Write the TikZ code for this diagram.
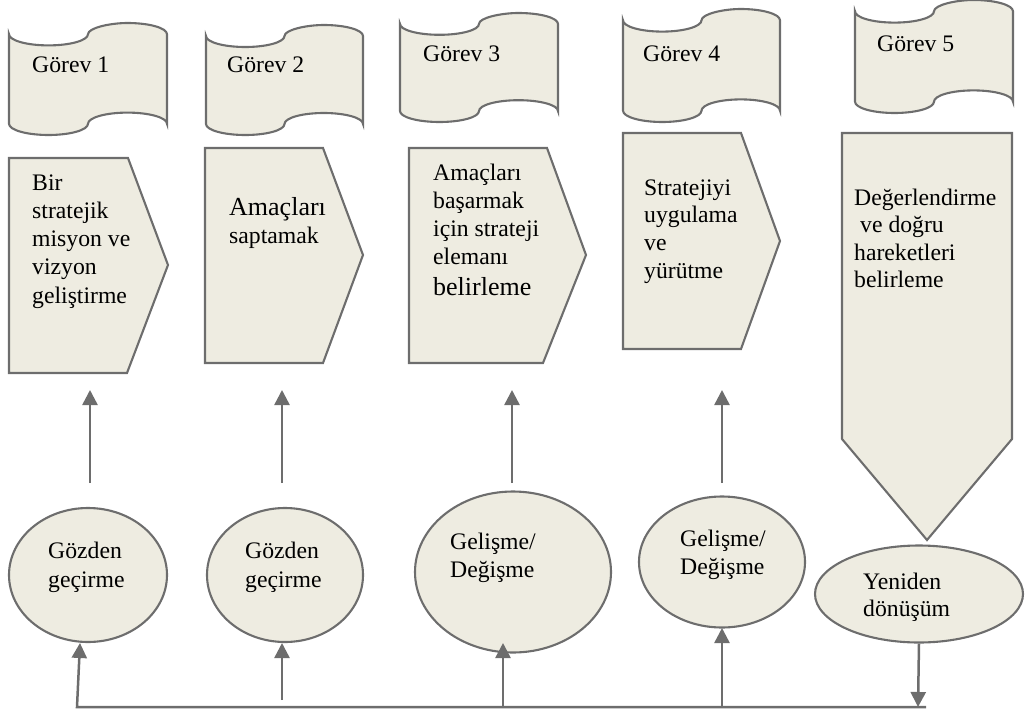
\documentclass[tikz,border=0pt]{standalone}
\usepackage{fontspec}
\setmainfont{Liberation Serif}
\usetikzlibrary{arrows.meta,shapes.geometric}

\definecolor{shapefill}{HTML}{EEECE1}
\definecolor{edgegray}{HTML}{6D6D6D}

\tikzset{
  shapeline/.style={draw=edgegray, line width=2.1pt, fill=shapefill, line join=miter},
  oval/.style={ellipse, shapeline, inner sep=0pt},
  lbl/.style={inner sep=0pt, anchor=base west, font=\fontsize{23.7pt}{28pt}\selectfont},
  biglbl/.style={lbl, font=\fontsize{26pt}{30pt}\selectfont},
  link/.style={draw=edgegray, line width=2.5pt, -{Triangle[width=15pt,length=15pt]}},
}

% punched-tape banner: left x, top y, width, height
\newcommand\tapeshape[4]{%
  \pgfmathsetmacro\tapeqx{#3/4}%
  \pgfmathsetmacro\tapeqy{#4/10}%
  \begin{scope}[shift={(#1,#2)}, x=\tapeqx pt, y=-\tapeqy pt]
    \path[shapeline] (0,1)
      .. controls (0,1.552) and (0.448,2) .. (1,2)
      .. controls (1.552,2) and (2,1.552) .. (2,1)
      .. controls (2,0.448) and (2.552,0) .. (3,0)
      .. controls (3.552,0) and (4,0.448) .. (4,1)
      -- (4,9)
      .. controls (4,8.448) and (3.552,8) .. (3,8)
      .. controls (2.448,8) and (2,8.448) .. (2,9)
      .. controls (2,9.552) and (1.552,10) .. (1,10)
      .. controls (0.448,10) and (0,9.552) .. (0,9)
      -- cycle;
  \end{scope}}

\begin{document}
\begin{tikzpicture}[x=1pt, y=-1pt]
\useasboundingbox (0,0) rectangle (1025,709);

% task banners
\tapeshape{9}{23}{158}{112}
\tapeshape{206}{25}{157}{110}
\tapeshape{400}{13}{158}{109}
\tapeshape{623}{9}{157}{113}
\tapeshape{855}{0}{158}{113}

\node[lbl] (g1) at (32,73) {Görev 1};
\node[lbl] (g2) at (227,73) {Görev 2};
\node[lbl] (g3) at (423,62) {Görev 3};
\node[lbl] (g4) at (643,62) {Görev 4};
\node[lbl] (g5) at (877,52) {Görev 5};

% step arrows
\path[shapeline] (9,158) -- (128,158) -- (168,265) -- (127,373) -- (9,373) -- cycle;
\path[shapeline] (205,148) -- (323,148) -- (363,255) -- (323,363) -- (205,363) -- cycle;
\path[shapeline] (409,148) -- (547,148) -- (586,255) -- (543,363) -- (409,363) -- cycle;
\path[shapeline] (623,133) -- (741,133) -- (780,241) -- (741,349) -- (623,349) -- cycle;
\path[shapeline] (842,133) -- (1012,133) -- (1012,439) -- (927,540) -- (842,439) -- cycle;

\foreach \t [count=\i] in {Bir, stratejik, misyon ve, vizyon, geliştirme}
  \node[lbl] (s1l\i) at (32,{190+28.3*(\i-1)}) {\t};

\node[biglbl] (s2l1) at (229,215) {Amaçları};
\node[lbl] (s2l2) at (229,243) {saptamak};

\foreach \t [count=\i] in {Amaçları, başarmak, için strateji, elemanı}
  \node[lbl] (s3l\i) at (433,{180+28.3*(\i-1)}) {\t};
\node[biglbl] (s3l5) at (433,295) {belirleme};

\foreach \t [count=\i] in {Stratejiyi, uygulama, ve, yürütme}
  \node[lbl] (s4l\i) at (644,{195+27.7*(\i-1)}) {\t};

\node[lbl] (s5l1) at (854,205) {Değerlendirme};
\node[lbl] (s5l2) at (860,232) {ve doğru};
\node[lbl] (s5l3) at (854,260) {hareketleri};
\node[lbl] (s5l4) at (854,287) {belirleme};

% review ovals
\node[oval, minimum width=158pt, minimum height=134pt] (e1) at (88,575) {};
\node[oval, minimum width=156pt, minimum height=134pt] (e2) at (285,575) {};
\node[oval, minimum width=196pt, minimum height=161pt] (e3) at (513,572) {};
\node[oval, minimum width=166pt, minimum height=131pt] (e4) at (722,562) {};
\node[oval, minimum width=208pt, minimum height=97pt] (e5) at (919,594) {};

\node[lbl] (o1a) at (48,558) {Gözden};
\node[lbl] (o1b) at (48,587) {geçirme};
\node[lbl] (o2a) at (245,558) {Gözden};
\node[lbl] (o2b) at (245,587) {geçirme};
\node[lbl] (o3a) at (450,549) {Gelişme/};
\node[lbl] (o3b) at (450,577) {Değişme};
\node[lbl] (o4a) at (680,546) {Gelişme/};
\node[lbl] (o4b) at (680,574) {Değişme};
\node[lbl] (o5a) at (863,589) {Yeniden};
\node[lbl] (o5b) at (863,616) {dönüşüm};

% upward links from ovals to steps
\coordinate (up1a) at (90,483);  \coordinate (up1b) at (90,390);
\coordinate (up2a) at (282,483); \coordinate (up2b) at (282,390);
\coordinate (up3a) at (512,483); \coordinate (up3b) at (512,390);
\coordinate (up4a) at (722,483); \coordinate (up4b) at (722,390);
\draw[link] (up1a) -- (up1b);
\draw[link] (up2a) -- (up2b);
\draw[link] (up3a) -- (up3b);
\draw[link] (up4a) -- (up4b);

% feedback bus
\coordinate (busR) at (926,707);
\coordinate (busL) at (77,707);
\coordinate (in1) at (80,643);
\coordinate (fb2a) at (282,700); \coordinate (fb2b) at (282,643);
\coordinate (fb3a) at (503,707); \coordinate (fb3b) at (503,643);
\coordinate (fb4a) at (722,707); \coordinate (fb4b) at (722,628);
\coordinate (dn5) at (918,707);

\draw[link] (e5.south) -- (dn5);
\draw[link, line join=miter] (busR) -- (busL) -- (in1);
\draw[link] (fb2a) -- (fb2b);
\draw[link] (fb3a) -- (fb3b);
\draw[link] (fb4a) -- (fb4b);
\end{tikzpicture}
\end{document}
